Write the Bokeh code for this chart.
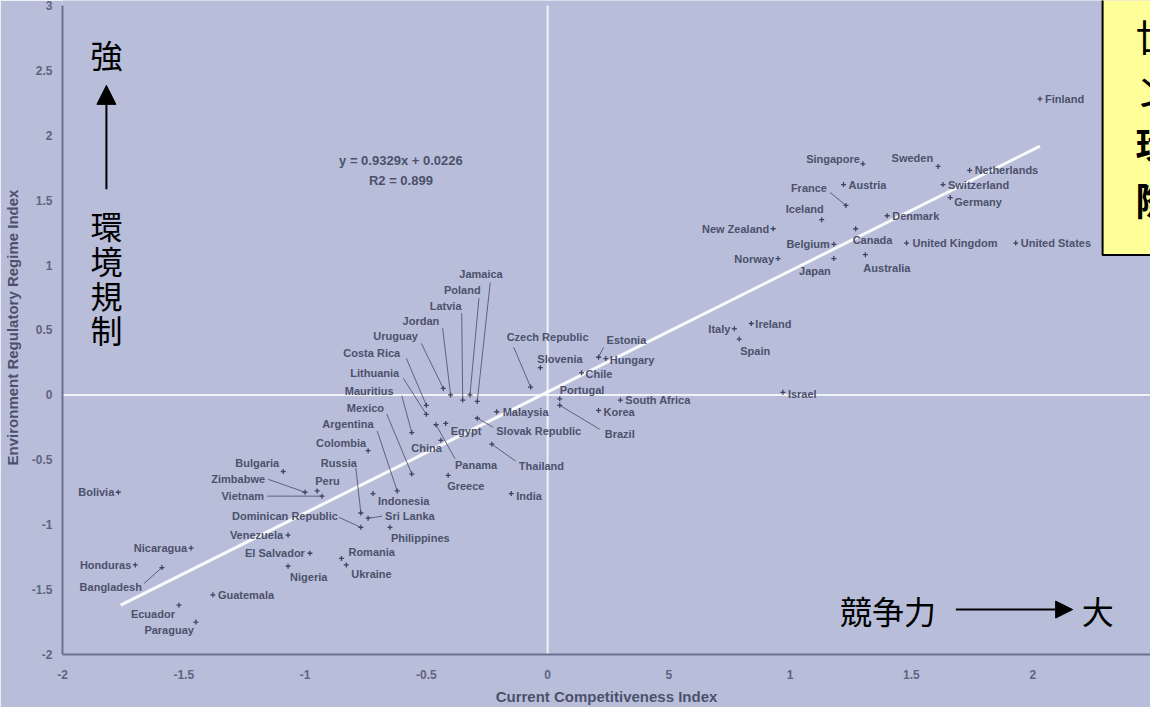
from bokeh.plotting import figure
from bokeh.models import Range1d, FixedTicker, Arrow, NormalHead, ColumnDataSource
from bokeh.embed import file_html
from bokeh.resources import INLINE
from bokeh.core.properties import value

# ---------------- data ----------------
countries = ["Finland", "Sweden", "Singapore", "Netherlands", "Austria", "France", "Switzerland",
             "Germany", "Iceland", "Denmark", "New Zealand", "Canada", "Belgium", "United Kingdom",
             "United States", "Norway", "Japan", "Australia", "Italy", "Ireland", "Spain", "Israel",
             "Czech Republic", "Slovenia", "Estonia", "Hungary", "Chile", "Portugal", "Brazil",
             "South Africa", "Korea", "Malaysia", "Slovak Republic", "Thailand", "Greece", "India",
             "Egypt", "Panama", "China", "Jamaica", "Poland", "Latvia", "Jordan", "Uruguay",
             "Costa Rica", "Lithuania", "Mauritius", "Mexico", "Argentina", "Colombia", "Russia",
             "Sri Lanka", "Dominican Republic", "Indonesia", "Philippines", "Bulgaria", "Zimbabwe",
             "Peru", "Vietnam", "Venezuela", "Nicaragua", "Honduras", "Bangladesh", "El Salvador",
             "Romania", "Ukraine", "Nigeria", "Guatemala", "Ecuador", "Paraguay", "Bolivia"]
cci = [2.03, 1.61, 1.30, 1.74, 1.22, 1.23, 1.63,
       1.66, 1.13, 1.40, 0.93, 1.27, 1.18, 1.48,
       1.93, 0.95, 1.18, 1.31, 0.77, 0.84, 0.79, 0.97,
       -0.07, -0.03, 0.21, 0.24, 0.14, 0.05, 0.05,
       0.30, 0.21, -0.21, -0.29, -0.23, -0.41, -0.15,
       -0.42, -0.46, -0.44, -0.29, -0.32, -0.35, -0.40, -0.43,
       -0.50, -0.50, -0.56, -0.56, -0.62, -0.74, -0.77,
       -0.74, -0.77, -0.72, -0.65, -1.09, -1.00,
       -0.95, -0.93, -1.07, -1.47, -1.70, -1.59, -0.98,
       -0.85, -0.83, -1.07, -1.38, -1.52, -1.45, -1.77]
erri = [2.28, 1.76, 1.78, 1.73, 1.62, 1.46, 1.62,
        1.52, 1.35, 1.38, 1.28, 1.28, 1.16, 1.17,
        1.17, 1.05, 1.05, 1.08, 0.51, 0.55, 0.43, 0.02,
        0.06, 0.21, 0.29, 0.28, 0.17, -0.03, -0.08,
        -0.04, -0.12, -0.13, -0.18, -0.38, -0.62, -0.76,
        -0.22, -0.23, -0.35, -0.05, 0.00, -0.04, 0.00, 0.05,
        -0.08, -0.15, -0.29, -0.61, -0.74, -0.43, -0.91,
        -0.95, -1.02, -0.76, -1.02, -0.59, -0.75,
        -0.74, -0.78, -1.08, -1.18, -1.31, -1.33, -1.22,
        -1.26, -1.31, -1.32, -1.54, -1.62, -1.75, -0.75]

x_ticks = [-2, -1.5, -1, -0.5, 0, 0.5, 1, 1.5, 2, 2.5]
x_tick_labels = ["-2", "-1.5", "-1", "-0.5", "0", "5", "1", "1.5", "2", "2.5"]
y_ticks = [-2, -1.5, -1, -0.5, 0, 0.5, 1, 1.5, 2, 2.5, 3]
y_tick_labels = ["-2", "-1.5", "-1", "-0.5", "0", "0.5", "1", "1.5", "2", "2.5", "3"]

slope = 0.9329
intercept = 0.0226
r2 = 0.899
fit_x = [-1.76, 2.03]

x_title = "Current Competitiveness Index"
y_title = "Environment Regulatory Regime Index"

# ---------------- layout (pixels) ----------------
W, H = 1150, 707
BL, BR, BT, BB = 60, 0, 0, 52
FRAME_W = W - BL - BR
FRAME_H = H - BT - BB
PX_X = 243.0
PX_Y = 130.0
X0 = -2.0
Y0 = -2.0
X1 = X0 + FRAME_W / PX_X
Y1 = Y0 + FRAME_H / PX_Y

# label placement: (dx px, dy px up, align, leader end (dx, dy) or None)
LAYOUT = {
    "Finland": (5, 0, "left", None),
    "Sweden": (-5, 8, "right", None),
    "Singapore": (-3, 5, "right", None),
    "Netherlands": (5, 0, "left", None),
    "Austria": (5, 0, "left", None),
    "France": (-19, 17, "right", (-16, 13)),
    "Switzerland": (5, 0, "left", None),
    "Germany": (4, -4, "left", None),
    "Iceland": (2, 11, "right", None),
    "Denmark": (5, 0, "left", None),
    "New Zealand": (-4, 0, "right", None),
    "Canada": (-3, -11, "left", None),
    "Belgium": (-4, 0, "right", None),
    "United Kingdom": (6, 0, "left", None),
    "United States": (5, 0, "left", None),
    "Norway": (-4, 0, "right", None),
    "Japan": (-3, -12, "right", None),
    "Australia": (-2, -13, "left", None),
    "Italy": (-4, 0, "right", None),
    "Ireland": (4, 0, "left", None),
    "Spain": (1, -12, "left", None),
    "Israel": (5, -2, "left", None),
    "Czech Republic": (-24, 50, "left", (-17, 40)),
    "Slovenia": (-3, 9, "left", None),
    "Estonia": (8, 17, "left", (5, 10)),
    "Hungary": (4, -1, "left", None),
    "Chile": (4, -1, "left", None),
    "Portugal": (0, 9, "left", None),
    "Brazil": (45, -29, "left", (40, -24)),
    "South Africa": (5, 0, "left", None),
    "Korea": (5, -2, "left", None),
    "Malaysia": (6, 0, "left", None),
    "Slovak Republic": (19, -13, "left", (16, -9)),
    "Thailand": (27, -22, "left", (24, -17)),
    "Greece": (-1, -11, "left", None),
    "India": (5, -2, "left", None),
    "Egypt": (5, -8, "left", None),
    "Panama": (19, -40, "left", (19, -34)),
    "China": (1, -8, "right", None),
    "Jamaica": (-18, 127, "left", (13, 119)),
    "Poland": (-26, 105, "left", (9, 97)),
    "Latvia": (-33, 94, "left", (-1, 87)),
    "Jordan": (-48, 74, "left", (-8, 67)),
    "Uruguay": (-70, 52, "left", (-22, 45)),
    "Costa Rica": (-83, 52, "left", (-20, 47)),
    "Lithuania": (-76, 41, "left", (-23, 36)),
    "Mauritius": (-67, 42, "left", (-10, 37)),
    "Mexico": (-65, 66, "left", (-25, 60)),
    "Argentina": (-75, 67, "left", (-20, 60)),
    "Colombia": (-2, 8, "right", None),
    "Russia": (-40, 50, "left", (-5, 45)),
    "Sri Lanka": (17, 2, "left", (14, 2)),
    "Dominican Republic": (-23, 11, "right", (-22, 10)),
    "Indonesia": (5, -7, "left", None),
    "Philippines": (1, -11, "left", None),
    "Bulgaria": (-4, 8, "right", None),
    "Zimbabwe": (-40, 13, "right", (-37, 13)),
    "Peru": (-2, 10, "left", None),
    "Vietnam": (-58, 0, "right", (-55, 0)),
    "Venezuela": (-5, 0, "right", None),
    "Nicaragua": (-4, 0, "right", None),
    "Honduras": (-4, 0, "right", None),
    "Bangladesh": (-20, -19, "right", (-18, -16)),
    "El Salvador": (-5, 0, "right", None),
    "Romania": (7, 6, "left", None),
    "Ukraine": (5, -9, "left", None),
    "Nigeria": (2, -11, "left", None),
    "Guatemala": (5, 0, "left", None),
    "Ecuador": (-4, -9, "right", None),
    "Paraguay": (-2, -8, "right", None),
    "Bolivia": (-4, 0, "right", None),
}

BG = "#B8BEDA"
LABEL_C = "#4C516B"
AXIS_C = "#6A7190"
TICK_C = "#5E6480"
FONT = "Liberation Sans"
JP = "Noto Sans CJK JP"


def px2x(px):
    return X0 + (px - (8 + BL)) / PX_X


def px2y(py):
    return Y0 + ((8 + BT + FRAME_H) - py) / PX_Y


p = figure(width=W, height=H, output_backend="svg", toolbar_location=None,
           x_range=Range1d(X0, X1), y_range=Range1d(Y0, Y1),
           min_border_left=BL, min_border_right=BR, min_border_top=BT, min_border_bottom=BB,
           background_fill_color=BG, border_fill_color=BG, outline_line_color=None)
p.grid.visible = False

for ax, ticks, labels, bounds in ((p.xaxis, x_ticks, x_tick_labels, (-2, 2.5)),
                                   (p.yaxis, y_ticks, y_tick_labels, (-2, 3))):
    ax.ticker = FixedTicker(ticks=ticks)
    ax.major_label_overrides = {t: l for t, l in zip(ticks, labels)}
    ax.bounds = bounds
    ax.axis_line_color = AXIS_C
    ax.axis_line_width = 2
    ax.major_tick_out = 0
    ax.major_tick_in = 0
    ax.minor_tick_out = 0
    ax.minor_tick_in = 0
    ax.major_label_text_font = FONT
    ax.major_label_text_font_style = "bold"
    ax.major_label_text_font_size = "12px"
    ax.major_label_text_color = TICK_C
    ax.axis_label_text_font = FONT
    ax.axis_label_text_font_style = "bold"
    ax.axis_label_text_font_size = "15px"
    ax.axis_label_text_color = LABEL_C

p.xaxis.axis_label = x_title
p.yaxis.axis_label = y_title
p.xaxis.major_label_standoff = 15
p.xaxis.axis_label_standoff = 6
p.yaxis.major_label_standoff = 10
p.yaxis.axis_label_standoff = 8

# white zero lines
p.segment(x0=[0, min(x_ticks)], y0=[min(y_ticks), 0], x1=[0, max(x_ticks)], y1=[max(y_ticks), 0],
          line_color="white", line_width=2, line_alpha=0.8)

# regression line
p.line(x=fit_x, y=[slope * v + intercept for v in fit_x], line_color="white", line_width=3, line_alpha=0.9)
p.text(x=[px2x(407), px2x(407)], y=[px2y(168), px2y(188)],
       text=[f"y = {slope}x + {intercept}", f"R2 = {r2}"],
       text_align="center", text_baseline="middle", text_font=value(FONT), text_font_style="bold",
       text_font_size="13px", text_color=LABEL_C)

# leaders
lx0, ly0, lx1, ly1 = [], [], [], []
for c, x, y in zip(countries, cci, erri):
    lead = LAYOUT[c][3]
    if lead is not None:
        lx0.append(x)
        ly0.append(y)
        lx1.append(x + lead[0] / PX_X)
        ly1.append(y + lead[1] / PX_Y)
p.segment(x0=lx0, y0=ly0, x1=lx1, y1=ly1, line_color=LABEL_C, line_width=1, line_alpha=0.85)

# markers
p.scatter(x=cci, y=erri, marker="cross", size=5, line_color="#3E4360", line_width=1.3)

# country labels
for align in ("left", "right"):
    d = dict(x=[], y=[], t=[], dx=[], dy=[])
    for c, x, y in zip(countries, cci, erri):
        dx, dy, a, _ = LAYOUT[c]
        if a == align:
            d["x"].append(x)
            d["y"].append(y)
            d["t"].append(c)
            d["dx"].append(dx)
            d["dy"].append(-dy)
    src = ColumnDataSource(d)
    p.text(x="x", y="y", text="t", x_offset="dx", y_offset="dy", source=src,
           text_align=align, text_baseline="middle", text_font=value(FONT), text_font_style="bold",
           text_font_size="11px", text_color=LABEL_C)

# Japanese annotations
p.text(x=[px2x(112)], y=[px2y(62)], text=["強"], text_align="center", text_baseline="middle",
       text_font=value(JP), text_font_size="32px", text_color="black")
p.text(x=[px2x(112)] * 4, y=[px2y(v) for v in (233, 268, 303, 337)], text=list("環境規制"),
       text_align="center", text_baseline="middle", text_font=value(JP), text_font_size="32px",
       text_color="black")
p.add_layout(Arrow(end=NormalHead(size=19, fill_color="black", line_color="black"),
                   x_start=px2x(112), y_start=px2y(197), x_end=px2x(112), y_end=px2y(93),
                   line_width=2, line_color="black"))
p.text(x=[px2x(847)], y=[px2y(618)], text=["競争力"], text_align="left", text_baseline="middle",
       text_font=value(JP), text_font_size="32px", text_color="black")
p.text(x=[px2x(1089)], y=[px2y(618)], text=["大"], text_align="left", text_baseline="middle",
       text_font=value(JP), text_font_size="32px", text_color="black")
p.add_layout(Arrow(end=NormalHead(size=17, fill_color="black", line_color="black"),
                   x_start=px2x(963), y_start=px2y(618), x_end=px2x(1080), y_end=px2y(618),
                   line_width=2, line_color="black"))

# yellow note box (cut by the right edge, as in the reference)
p.quad(left=[px2x(1110)], right=[X1 + 1], bottom=[px2y(263)], top=[Y1 + 1],
       fill_color="#FFFF99", line_color="black", line_width=2)
p.text(x=[px2x(1143)] * 2, y=[px2y(42), px2y(97)], text=["世", "ン"], text_align="left",
       text_baseline="middle", text_font=value(JP), text_font_size="38px", text_color="black")
p.text(x=[px2x(1143)] * 2, y=[px2y(150), px2y(206)], text=["環", "際"], text_align="left",
       text_baseline="middle", text_font=value(JP), text_font_size="38px", text_font_style="bold",
       text_color="black")

open("out.html", "w").write(file_html(p, INLINE))
